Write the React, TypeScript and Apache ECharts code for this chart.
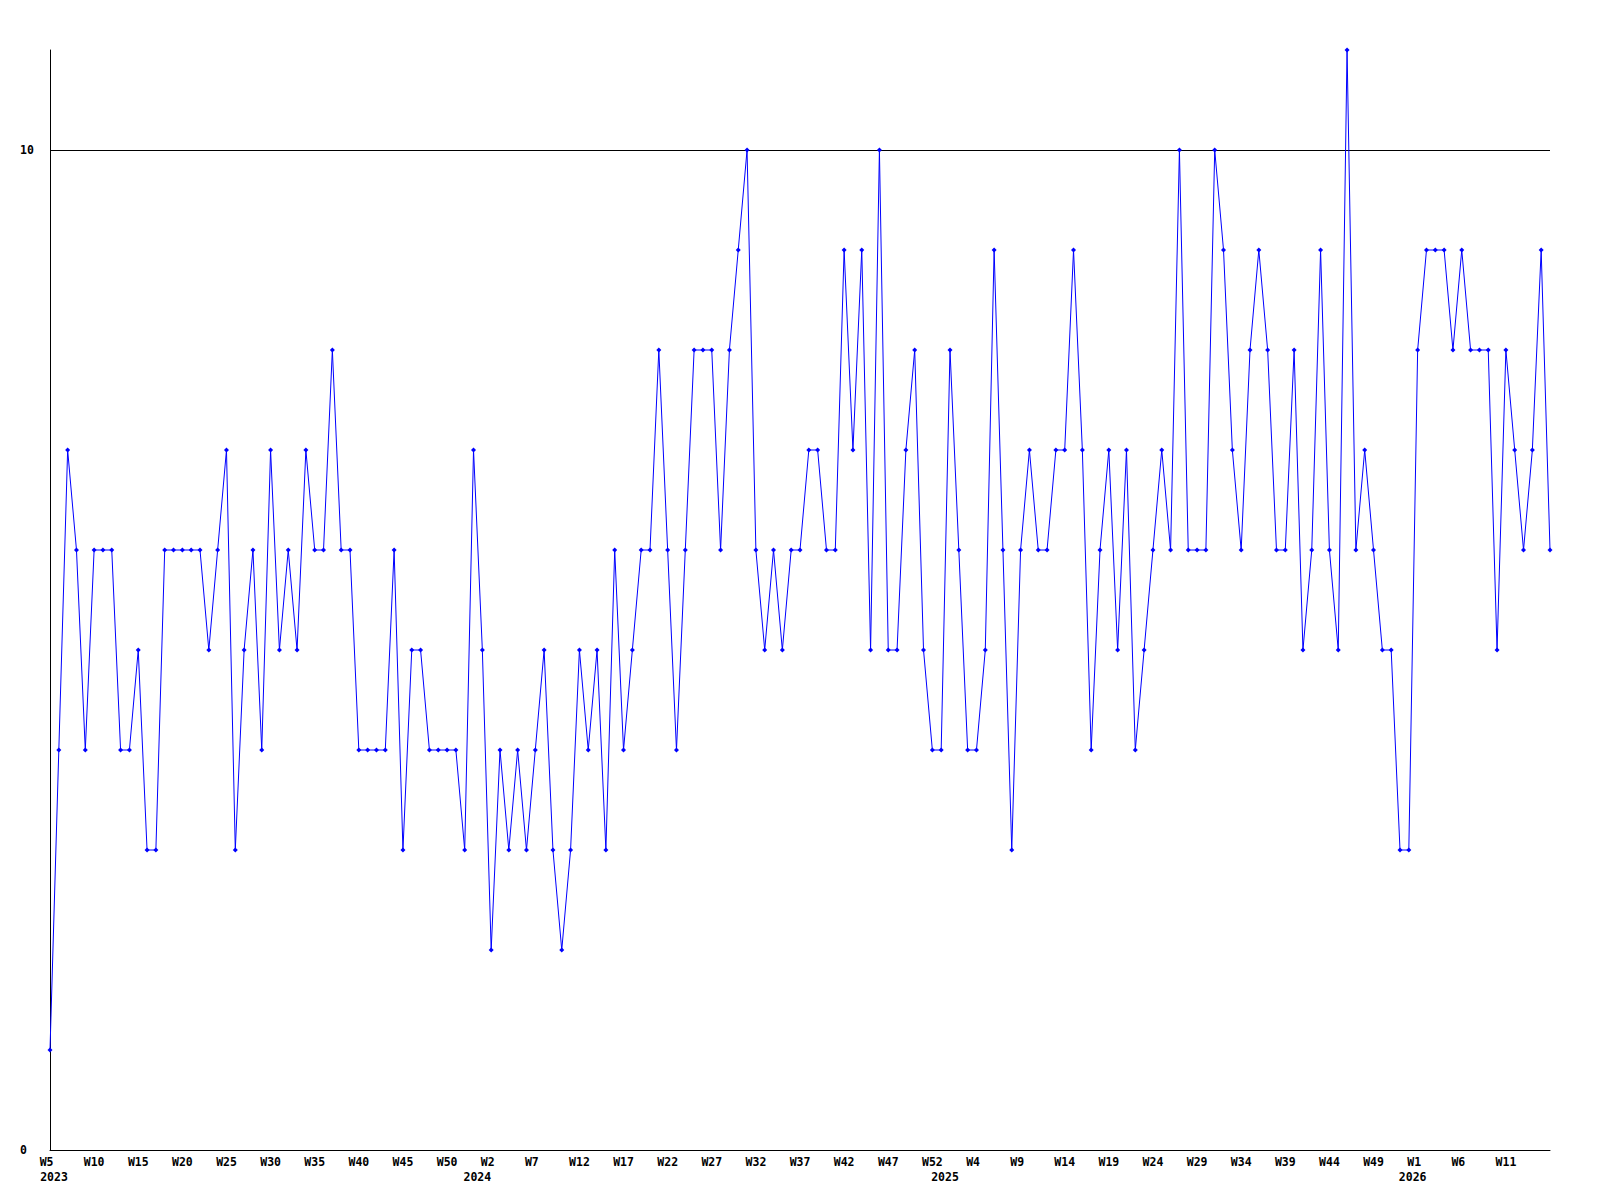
import React, { useEffect, useRef } from "react";
import * as echarts from "echarts";

// Week ranges covered by the chart: [year, firstWeek, lastWeek]
const yearWeeks: [number, number, number][] = [
  [2023, 5, 53],
  [2024, 1, 53],
  [2025, 1, 53],
  [2026, 1, 16],
];

const categories: string[] = [];
for (const [y, a, b] of yearWeeks) {
  for (let w = a; w <= b; w++) categories.push(`W${w}|${y}`);
}

const values2023a = [1, 4, 7, 6, 4, 6, 6, 6, 4, 4, 5, 3, 3, 6, 6, 6, 6, 6, 5, 6, 7, 3];
const values2023b = [5, 6, 4, 7, 5, 6, 5, 7, 6, 6, 8, 6, 6, 4, 4, 4, 4, 6, 3, 5, 5, 4];
const values2024a = [4, 4, 4, 3, 7, 5, 2, 4, 3, 4, 3, 4, 5, 3, 2, 3, 5, 4, 5, 3, 6];
const values2024b = [4, 5, 6, 6, 8, 6, 4, 6, 8, 8, 8, 6, 8, 9, 10, 6, 5, 6, 5, 6, 6, 7];
const values2024c = [7, 6, 6, 9, 7, 9, 5, 10, 5, 5, 7, 8, 5, 4, 4, 8, 6, 4, 4, 5, 9];
const values2025a = [6, 3, 6, 7, 6, 6, 7, 7, 9, 7, 4, 6, 7, 5, 7, 4, 5, 6, 7, 6, 10, 6];
const values2025b = [6, 6, 10, 9, 7, 6, 8, 9, 8, 6, 6, 8, 5, 6, 9, 6, 5, 11, 6, 7, 6];
const values2026 = [5, 5, 3, 3, 8, 9, 9, 9, 8, 9, 8, 8, 8, 5, 8, 7, 6, 7, 9, 6];

const values = [
  ...values2023a,
  ...values2023b,
  ...values2024a,
  ...values2024b,
  ...values2024c,
  ...values2025a,
  ...values2025b,
  ...values2026,
];

const yTickLabels = [0, 10];

const FONT = "'DejaVu Sans Mono', monospace";
const FS = 11.5;

// indices where a year label is written (first point, and each week 1)
const yearLabelIdx = categories
  .map((c, i) => (i === 0 || c.startsWith("W1|") ? i : -1))
  .filter((i) => i >= 0);

const labelFont = {
  color: "#000",
  fontFamily: FONT,
  fontWeight: "bold" as const,
  fontSize: FS,
};

export default function App() {
  const ref = useRef<HTMLDivElement>(null);
  useEffect(() => {
    if (!ref.current) return;
    const chart = echarts.init(ref.current, null, { renderer: "svg" });
    const lastIdx = categories.length - 1;
    chart.setOption({
      animation: false,
      backgroundColor: "#ffffff",
      grid: { left: 50, right: 50, top: 50, bottom: 50, containLabel: false },
      xAxis: [
        {
          type: "category",
          data: categories,
          boundaryGap: false,
          position: "bottom",
          axisLine: { show: true, lineStyle: { color: "#000", width: 1 } },
          axisTick: { show: false },
          splitLine: { show: false },
          axisLabel: {
            ...labelFont,
            interval: (i: number) => i % 5 === 0 && i < lastIdx,
            margin: 5,
            lineHeight: 14.5,
            align: "center",
            verticalAlign: "top",
            formatter: (val: string) => `{w|${val.split("|")[0]}}`,
            rich: {
              w: { ...labelFont, width: 20.7, align: "left", lineHeight: 14.5 },
            },
          },
        },
        {
          type: "category",
          data: categories,
          boundaryGap: false,
          position: "bottom",
          axisLine: { show: false },
          axisTick: { show: false },
          splitLine: { show: false },
          axisLabel: {
            ...labelFont,
            interval: (i: number) => yearLabelIdx.includes(i),
            margin: 19.5,
            lineHeight: 14.5,
            align: "center",
            verticalAlign: "top",
            formatter: (val: string, i: number) => {
              const yr = val.split("|")[1];
              return i === 0 ? `{a|${yr}}` : `{b|${yr}}`;
            },
            rich: {
              a: { ...labelFont, lineHeight: 14.5, padding: [0, 0, 0, 8] },
              b: { ...labelFont, lineHeight: 14.5, padding: [0, 10, 0, 0] },
            },
          },
        },
      ],
      yAxis: {
        type: "value",
        min: 0,
        max: 11,
        interval: 10,
        axisLine: { show: true, lineStyle: { color: "#000", width: 1 } },
        axisTick: { show: false },
        axisLabel: {
          ...labelFont,
          margin: 30,
          align: "left",
          formatter: (v: number) => (yTickLabels.includes(v) ? String(v) : ""),
        },
        splitLine: {
          show: true,
          lineStyle: { color: ["#000", "#000", "rgba(0,0,0,0)"], width: 1 },
        },
      },
      series: [
        {
          type: "line",
          xAxisIndex: 0,
          data: values,
          showAllSymbol: true,
          symbol: "diamond",
          symbolSize: 5,
          itemStyle: { color: "#0000ff" },
          lineStyle: { color: "#0000ff", width: 1 },
          emphasis: { disabled: true },
        },
      ],
    });
    return () => chart.dispose();
  }, []);
  return (
    <div
      ref={ref}
      style={{ position: "absolute", left: 0, top: 0, width: 1600, height: 1200, background: "#fff" }}
    />
  );
}
